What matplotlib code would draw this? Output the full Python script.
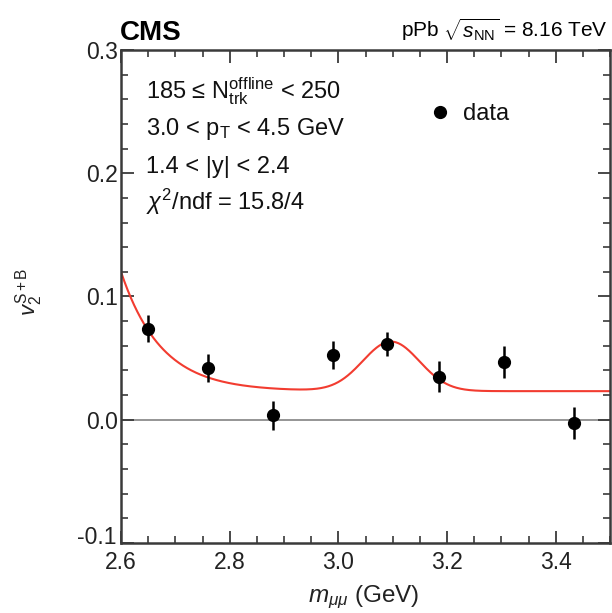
import numpy as np
import matplotlib
matplotlib.use("Agg")
import matplotlib.pyplot as plt
from matplotlib.ticker import MultipleLocator, FormatStrFormatter, FuncFormatter

plt.rcParams["font.family"] = ["Liberation Sans", "DejaVu Sans"]
plt.rcParams["mathtext.fontset"] = "custom"
plt.rcParams["mathtext.rm"] = "Liberation Sans"
plt.rcParams["mathtext.it"] = "Liberation Sans:italic"
plt.rcParams["mathtext.bf"] = "Liberation Sans:bold"

# Measured v2(S+B) per dimuon mass bin
mass = [2.65, 2.76, 2.88, 2.99, 3.09, 3.185, 3.305, 3.433]
v2 = [0.074, 0.042, 0.0035, 0.0525, 0.0615, 0.035, 0.0467, -0.0027]
v2_err = [0.011, 0.011, 0.0115, 0.0115, 0.0095, 0.0128, 0.0128, 0.0128]

# Fit parameters: background v2 (constant + falling exponential),
# signal v2 weighted by a Gaussian signal fraction at the J/psi mass
bkg_const = 0.0232
bkg_amp = 0.0968
bkg_tau = 0.074
v2_sig = 0.0705
alpha_peak = 0.85
m_jpsi = 3.097
sigma_jpsi = 0.052

m = np.linspace(2.6, 3.5, 600)
v2_bkg = bkg_const + bkg_amp * np.exp(-(m - 2.6) / bkg_tau)
alpha = alpha_peak * np.exp(-0.5 * ((m - m_jpsi) / sigma_jpsi) ** 2)
v2_fit = alpha * v2_sig + (1 - alpha) * v2_bkg

W, H = 612, 613
fig = plt.figure(figsize=(W / 100, H / 100), dpi=100)
ax = fig.add_axes([121 / W, 1 - 543 / H, 489 / W, 493 / H])


def fy(py):
    return 1 - py / H


ax.axhline(0.0, color="#8c8c8c", lw=1.3, zorder=1)
ax.plot(m, v2_fit, color="#f23c30", lw=1.5, zorder=2)
ax.errorbar(mass, v2, yerr=v2_err, fmt="o", color="black", ms=8.5,
            elinewidth=1.8, capsize=0, zorder=3)

ax.set_xlim(2.6, 3.5)
ax.set_ylim(-0.1, 0.3)
ax.xaxis.set_major_locator(MultipleLocator(0.2))
ax.xaxis.set_minor_locator(MultipleLocator(0.05))
ax.yaxis.set_major_locator(MultipleLocator(0.1))
ax.yaxis.set_minor_locator(MultipleLocator(0.02))
ax.xaxis.set_major_formatter(FormatStrFormatter("%.1f"))
# the lowest y label is drawn separately, lifted clear of the x labels
ax.yaxis.set_major_formatter(FuncFormatter(lambda v, p: "" if v < -0.05 else f"{v:.1f}"))

ax.tick_params(which="both", direction="in", top=True, right=True,
               colors="#3a3a3a", labelcolor="#222222", labelsize=16.5)
ax.tick_params(which="major", length=9, width=1.3)
ax.tick_params(which="minor", length=5, width=1.2)
ax.tick_params(axis="x", which="major", pad=6)
ax.tick_params(axis="y", which="major", pad=2)
for s in ax.spines.values():
    s.set_color("#3a3a3a")
    s.set_linewidth(1.8)

fig.text(117 / W, fy(537), "-0.1", fontsize=16.5, color="#222222",
         ha="right", va="center")

ax.set_xlabel(r"$m_{\mu\mu}$ (GeV)", fontsize=17.5, color="#222222")
ax.xaxis.set_label_coords(0.497, -0.082)
ax.set_ylabel(r"$v_2^{\mathrm{S+B}}$", fontsize=16, color="#222222")
ax.yaxis.set_label_coords(-0.155, 0.51)

fig.text(120 / W, fy(40), "CMS", fontsize=20, fontweight="bold",
         ha="left", va="baseline")
fig.text(608 / W, fy(37), r"pPb $\sqrt{s_{\mathrm{NN}}}$ = 8.16 TeV",
         fontsize=15, ha="right", va="baseline")

labels = [
    r"185 ≤ $\mathrm{N}_{\mathrm{trk}}^{\mathrm{offline}}$ < 250",
    r"3.0 < $\mathrm{p}_{\mathrm{T}}$ < 4.5 GeV",
    r"1.4 < |y| < 2.4",
    r"$\chi^{2}$/ndf = 15.8/4",
]
baselines = [98, 135, 173, 210]
for t, py in zip(labels, baselines):
    fig.text(146 / W, fy(py), t, fontsize=17, va="baseline", ha="left",
             color="#111111")

ax.plot([3.187], [0.2495], "o", color="black", ms=8.5)
fig.text(463 / W, fy(120), "data", fontsize=17, va="baseline", ha="left",
         color="#111111")

fig.savefig("out.png", dpi=100)
